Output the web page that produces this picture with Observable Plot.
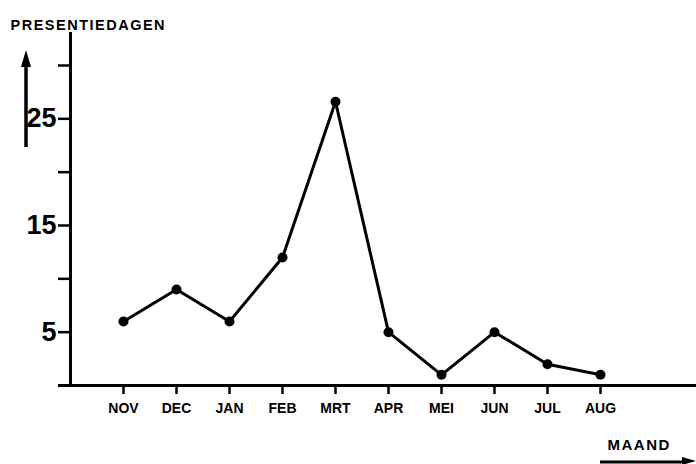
<!DOCTYPE html>
<html>
<head>
<meta charset="utf-8">
<script src="https://cdn.jsdelivr.net/npm/d3@7"></script>
<script src="https://cdn.jsdelivr.net/npm/@observablehq/plot@0.6"></script>
<style>
  html, body { margin: 0; padding: 0; background: #fff; }
  #wrap { position: relative; width: 696px; height: 464px; }
  #overlay { position: absolute; left: 0; top: 0; pointer-events: none; }
</style>
</head>
<body>
<div id="wrap"></div>
<script>
const months = ["NOV","DEC","JAN","FEB","MRT","APR","MEI","JUN","JUL","AUG"];
const days = [6, 9, 6, 12, 26.6, 5, 1, 5, 2, 1];
const yTicks = [5, 10, 15, 20, 25, 30];
const yLabels = [5, 15, 25];
const yTitle = "PRESENTIEDAGEN";
const xTitle = "MAAND";

const data = months.map((m, i) => ({month: m, value: days[i]}));
const font = "'Liberation Sans', Arial, sans-serif";

const chart = Plot.plot({
  width: 696,
  height: 464,
  marginLeft: 70,
  marginRight: 0,
  marginTop: 33,
  marginBottom: 79,
  style: {fontFamily: font, fontWeight: "bold", color: "#000", background: "#fff"},
  x: {type: "point", domain: months, range: [122, 600], padding: 0},
  y: {domain: [0, 33]},
  marks: [
    Plot.axisY(yTicks, {
      tickSize: 12, tickPadding: 2, strokeWidth: 2.5,
      tickFormat: d => yLabels.includes(d) ? String(d) : "",
      fontSize: 27, fontFamily: font, fontWeight: "bold", label: null
    }),
    Plot.axisX({
      tickSize: 9, tickPadding: 9, strokeWidth: 2.5,
      fontSize: 14, fontFamily: font, fontWeight: "bold", label: null
    }),
    Plot.frame({anchor: "left", strokeWidth: 3}),
    Plot.ruleY([0], {strokeWidth: 3, insetLeft: -12}),
    Plot.line(data, {x: "month", y: "value", stroke: "#000", strokeWidth: 3}),
    Plot.dot(data, {x: "month", y: "value", r: 5, fill: "#000"}),
    Plot.text([yTitle], {
      frameAnchor: "top-left", dx: -60, dy: -14, textAnchor: "start",
      fontSize: 14.5, fontWeight: "bold", fontFamily: font, fill: "#000"
    }),
    Plot.text([xTitle], {
      frameAnchor: "bottom-right", dx: -89, dy: 64, textAnchor: "start",
      fontSize: 15, fontWeight: "bold", fontFamily: font, fill: "#000"
    })
  ]
});

chart.querySelectorAll("text").forEach(t => {
  if (t.textContent === yTitle || t.textContent === xTitle) t.setAttribute("letter-spacing", "1.5");
});

const wrap = document.getElementById("wrap");
wrap.appendChild(chart);

const ns = "http://www.w3.org/2000/svg";
const ov = document.createElementNS(ns, "svg");
ov.setAttribute("id", "overlay");
ov.setAttribute("width", 696);
ov.setAttribute("height", 464);
ov.innerHTML = `
  <line x1="26" y1="147" x2="26" y2="62" stroke="#000" stroke-width="3.5"/>
  <path d="M26,50 L21,67 L31,67 Z" fill="#000"/>
  <line x1="600" y1="462" x2="684" y2="462" stroke="#000" stroke-width="3"/>
  <path d="M696,461 L682,457 L682,465 Z" fill="#000"/>
`;
wrap.appendChild(ov);
</script>
</body>
</html>
